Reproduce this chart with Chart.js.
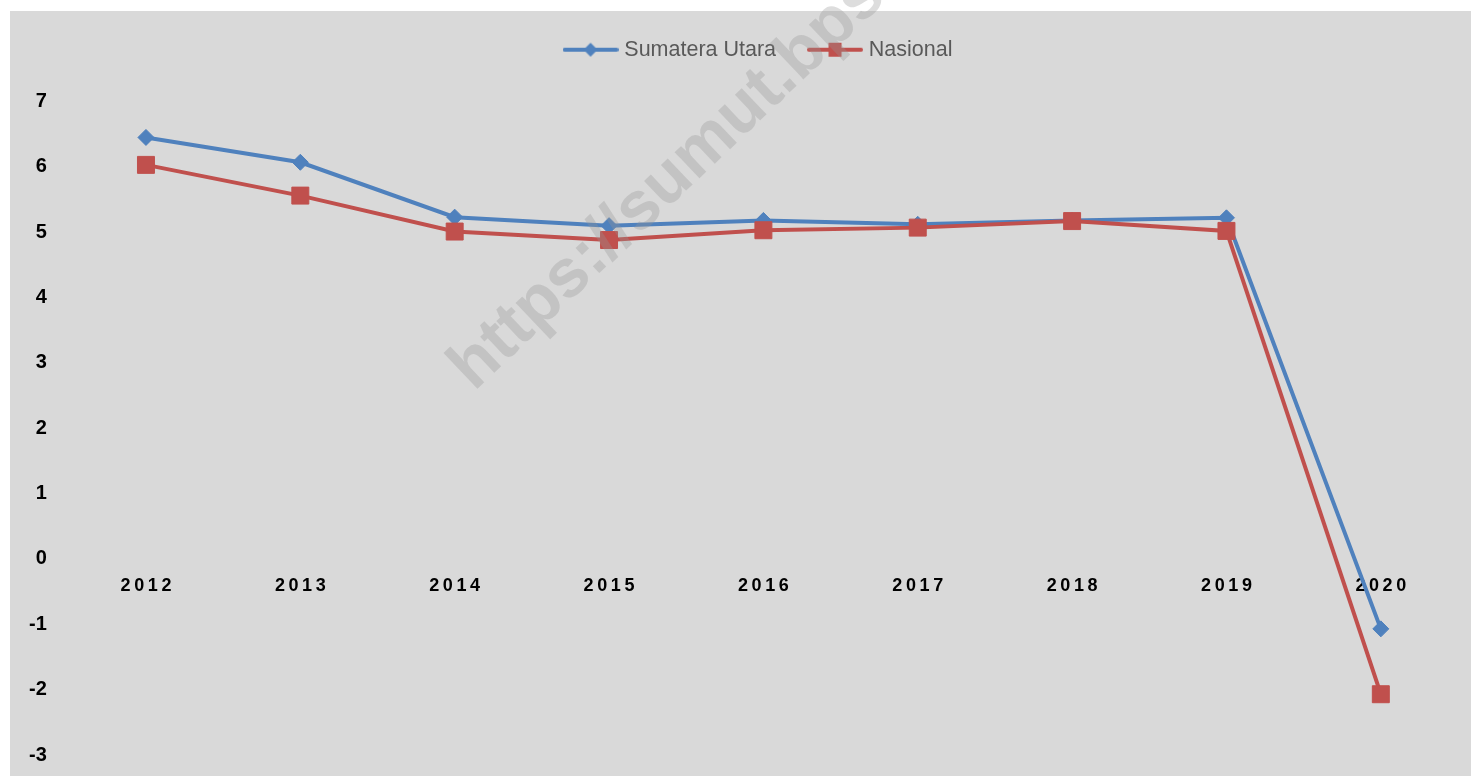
<!DOCTYPE html>
<html>
<head>
<meta charset="utf-8">
<script src="https://cdn.jsdelivr.net/npm/chart.js@4/dist/chart.umd.min.js"></script>
<style>
  html, body { margin: 0; padding: 0; background: #ffffff; }
  #wrap { width: 1471px; height: 776px; }
</style>
</head>
<body>
<div id="wrap"><canvas id="chart"></canvas></div>
<script>
// data
const years = ['2012', '2013', '2014', '2015', '2016', '2017', '2018', '2019', '2020'];
const sumut = [6.45, 6.07, 5.23, 5.10, 5.18, 5.12, 5.18, 5.22, -1.07];
const nasional = [6.03, 5.56, 5.01, 4.88, 5.03, 5.07, 5.17, 5.02, -2.07];
const seriesNames = ['Sumatera Utara', 'Nasional'];
const watermark = 'https://sumut.bps.go.id';

const blue = '#4f81bd';
const red = '#c0504d';

// legend symbol: a short line with the marker in the middle
function legendSymbol(color, shape) {
    const c = document.createElement('canvas');
    c.width = 56;
    c.height = 18;
    const ctx = c.getContext('2d');
    ctx.strokeStyle = color;
    ctx.lineWidth = 4;
    ctx.lineCap = 'round';
    ctx.beginPath();
    ctx.moveTo(2, 9);
    ctx.lineTo(54, 9);
    ctx.stroke();
    ctx.fillStyle = color;
    ctx.beginPath();
    if (shape === 'diamond') {
        ctx.moveTo(28, 2);
        ctx.lineTo(35, 9);
        ctx.lineTo(28, 16);
        ctx.lineTo(21, 9);
        ctx.closePath();
    } else {
        ctx.rect(21.5, 2, 13, 14);
    }
    ctx.fill();
    return c;
}

const backdrop = {
    id: 'backdrop',
    beforeDraw(chart) {
        const ctx = chart.ctx;
        ctx.save();
        ctx.fillStyle = '#ffffff';
        ctx.fillRect(0, 0, chart.width, chart.height);
        ctx.fillStyle = '#d9d9d9';
        ctx.fillRect(10, 11, chart.width - 10, chart.height - 11);
        ctx.restore();
    }
};

// leave room under the legend and nudge it to the right
const legendRoom = {
    id: 'legendRoom',
    afterInit(chart) {
        const leg = chart.legend;
        const fit = leg.fit;
        leg.fit = function () {
            fit.call(this);
            this.height += 31;
        };
        const draw = leg.draw;
        leg.draw = function () {
            const ctx = this.ctx;
            ctx.save();
            ctx.translate(24, 0);
            draw.call(this);
            ctx.restore();
        };
    }
};

const stamp = {
    id: 'stamp',
    afterDraw(chart) {
        const ctx = chart.ctx;
        ctx.save();
        ctx.translate(474, 392);
        ctx.rotate(-43.5 * Math.PI / 180);
        ctx.font = 'bold 68px "Liberation Sans", Arial, sans-serif';
        ctx.fillStyle = 'rgba(150,150,150,0.32)';
        ctx.textBaseline = 'alphabetic';
        ctx.fillText(watermark, 0, 0);
        ctx.restore();
    }
};

new Chart(document.getElementById('chart'), {
    type: 'line',
    data: {
        labels: years,
        datasets: [
            {
                label: seriesNames[0],
                data: sumut,
                borderColor: blue,
                backgroundColor: blue,
                borderWidth: 4,
                tension: 0,
                pointStyle: 'rectRot',
                pointRadius: 8,
                pointBorderWidth: 1,
                pointBackgroundColor: blue,
                pointBorderColor: blue,
                order: 2
            },
            {
                label: seriesNames[1],
                data: nasional,
                borderColor: red,
                backgroundColor: red,
                borderWidth: 4,
                tension: 0,
                pointStyle: 'rect',
                pointRadius: 12,
                pointBorderWidth: 1,
                pointBackgroundColor: red,
                pointBorderColor: red,
                order: 1
            }
        ]
    },
    options: {
        responsive: true,
        maintainAspectRatio: false,
        animation: false,
        layout: {
            padding: { top: 3, left: 7, right: 6, bottom: 21 }
        },
        plugins: {
            legend: {
                position: 'top',
                labels: {
                    usePointStyle: true,
                    pointStyleWidth: 46,
                    padding: 36,
                    color: '#595959',
                    font: { family: '"Liberation Sans", Arial, sans-serif', size: 21.5 },
                    sort: (a, b) => a.datasetIndex - b.datasetIndex,
                    generateLabels(chart) {
                        const items = Chart.defaults.plugins.legend.labels.generateLabels(chart);
                        items.forEach(item => {
                            item.pointStyle = item.datasetIndex === 0
                                ? legendSymbol(blue, 'diamond')
                                : legendSymbol(red, 'square');
                        });
                        return items;
                    }
                }
            },
            tooltip: { enabled: false }
        },
        scales: {
            x: {
                position: { y: 0 },
                offset: true,
                grid: { display: false, drawTicks: false },
                border: { display: false },
                afterFit(scale) {
                    // the axis sits on y = 0 inside the plot, it needs no room round it
                    scale.height = 0;
                    scale.paddingLeft = 0;
                    scale.paddingRight = 0;
                },
                ticks: {
                    padding: 16,
                    color: '#000000',
                    font: { family: '"Liberation Sans", Arial, sans-serif', size: 18, weight: 'bold' },
                    callback(value) {
                        return this.getLabelForValue(value).split('').join('\u2009');
                    }
                }
            },
            y: {
                min: -3,
                max: 7,
                grid: { display: false, drawTicks: false },
                border: { display: false },
                afterFit(scale) {
                    // tick padding is horizontal room only
                    scale.paddingTop = 0;
                    scale.paddingBottom = 0;
                },
                ticks: {
                    stepSize: 1,
                    padding: 22,
                    color: '#000000',
                    font: { family: '"Liberation Sans", Arial, sans-serif', size: 20, weight: 'bold' }
                }
            }
        }
    },
    plugins: [backdrop, legendRoom, stamp]
});
</script>
</body>
</html>
